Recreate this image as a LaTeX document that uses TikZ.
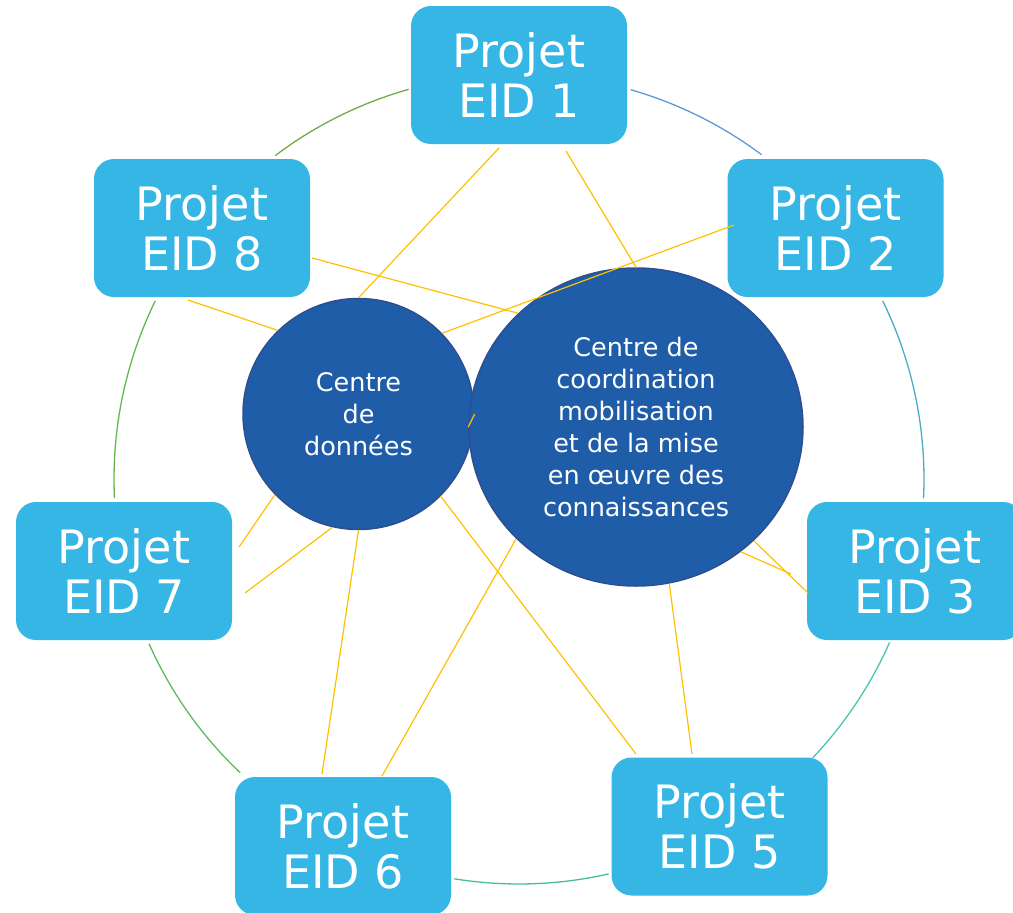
\documentclass[tikz,border=0pt]{standalone}
\usepackage{fontspec}
\setmainfont{DejaVu Sans}
\usetikzlibrary{shapes.geometric}
\definecolor{boxblue}{HTML}{35B6E4}
\definecolor{circfill}{HTML}{1F5DA8}
\definecolor{circline}{HTML}{2E4F8F}
\definecolor{linkyellow}{HTML}{FFC000}
\definecolor{ringA}{HTML}{70AD47}
\definecolor{ringB}{HTML}{5B9BD5}
\definecolor{ringC}{HTML}{4BACC6}
\definecolor{ringD}{HTML}{4CC4B0}
\definecolor{ringE}{HTML}{48C08A}
\definecolor{ringF}{HTML}{5CBB5E}
\definecolor{ringG}{HTML}{63B84E}
\tikzset{
  projbox/.style={rectangle, rounded corners=20pt, fill=boxblue, draw=none,
    minimum width=216pt, minimum height=138pt, inner sep=0pt, align=center,
    text=white, font=\fontsize{46}{50}\selectfont},
  hubcircle/.style={circle, fill=circfill, draw=circline, line width=1.5pt,
    minimum size=231pt, inner sep=0pt, align=center, text=white,
    font=\fontsize{25.5}{32}\selectfont},
  hubellipse/.style={ellipse, fill=circfill, draw=circline, line width=1.5pt,
    minimum width=334pt, minimum height=318pt, inner sep=0pt, align=center, text=white,
    font=\fontsize{25.5}{32}\selectfont},
  link/.style={draw=linkyellow, line width=1.2pt},
  ring/.style={line width=1.3pt}
}
\begin{document}
\begin{tikzpicture}[x=1pt,y=-1pt]
\useasboundingbox (0,0) rectangle (1013,913);
\clip (0,0) rectangle (1013,913);

% ring arcs
\coordinate (ringc) at (519,479);
\draw[ring, ringA] ([shift={(105.8:405pt)}]ringc) arc[start angle=105.8, end angle=127, radius=405pt];
\draw[ring, ringB] ([shift={(74:405pt)}]ringc) arc[start angle=74, end angle=53.2, radius=405pt];
\draw[ring, ringC] ([shift={(26.1:405pt)}]ringc) arc[start angle=26.1, end angle=-2.7, radius=405pt];
\draw[ring, ringD] ([shift={(-23.8:405pt)}]ringc) arc[start angle=-23.8, end angle=-43.5, radius=405pt];
\draw[ring, ringE] ([shift={(-77.2:405pt)}]ringc) arc[start angle=-77.2, end angle=-99.2, radius=405pt];
\draw[ring, ringF] ([shift={(-133.5:405pt)}]ringc) arc[start angle=-133.5, end angle=-156, radius=405pt];
\draw[ring, ringG] ([shift={(182.7:405pt)}]ringc) arc[start angle=182.7, end angle=153.9, radius=405pt];

% project boxes
\node[projbox] (p1) at (519,75) {Projet\\EID 1};
\node[projbox] (p2) at (835.5,228) {Projet\\EID 2};
\node[projbox] (p8) at (202,228) {Projet\\EID 8};
\node[projbox] (p7) at (124,571) {Projet\\EID 7};
\node[projbox] (p3) at (915,571) {Projet\\EID 3};
\node[projbox] (p5) at (719.5,826.5) {Projet\\EID 5};
\node[projbox] (p6) at (343,846) {Projet\\EID 6};

% hubs
\node[hubcircle] (data) at (358.5,414) {Centre\\de\\données};
\node[hubellipse] (coord) at (636,427) {Centre de\\coordination\\mobilisation\\et de la mise\\en œuvre des\\connaissances};

% free ends near the boxes
\coordinate (e1a) at (499,148);
\coordinate (e1b) at (566,151);
\coordinate (e8a) at (312,258);
\coordinate (e8b) at (188,300);
\coordinate (e2a) at (734,225);
\coordinate (e7a) at (239,547);
\coordinate (e7b) at (245,593);
\coordinate (e6a) at (322,774);
\coordinate (e6b) at (382,776);
\coordinate (e5a) at (636,754);
\coordinate (e5b) at (692,754);
\coordinate (e3a) at (808,593);
\coordinate (e3b) at (791,574);

% links
\draw[link] (e1a) -- (data.90);
\draw[link] (e1b) -- (coord.90);
\draw[link] (e8a) -- (coord.136.5);
\draw[link] (e2a) -- (data.44.5);
\draw[link] (e8b) -- (data.134.8);
\draw[link] (data.0) -- (coord.180);
\draw[link] (e7a) -- (data.224.8);
\draw[link] (e7b) -- (data.257.8);
\draw[link] (data.270) -- (e6a);
\draw[link] (data.315.5) -- (e5a);
\draw[link] (coord.223.3) -- (e6b);
\draw[link] (coord.282.8) -- (e5b);
\draw[link] (coord.316.5) -- (e3a);
\draw[link] (coord.310.8) -- (e3b);
\end{tikzpicture}
\end{document}
